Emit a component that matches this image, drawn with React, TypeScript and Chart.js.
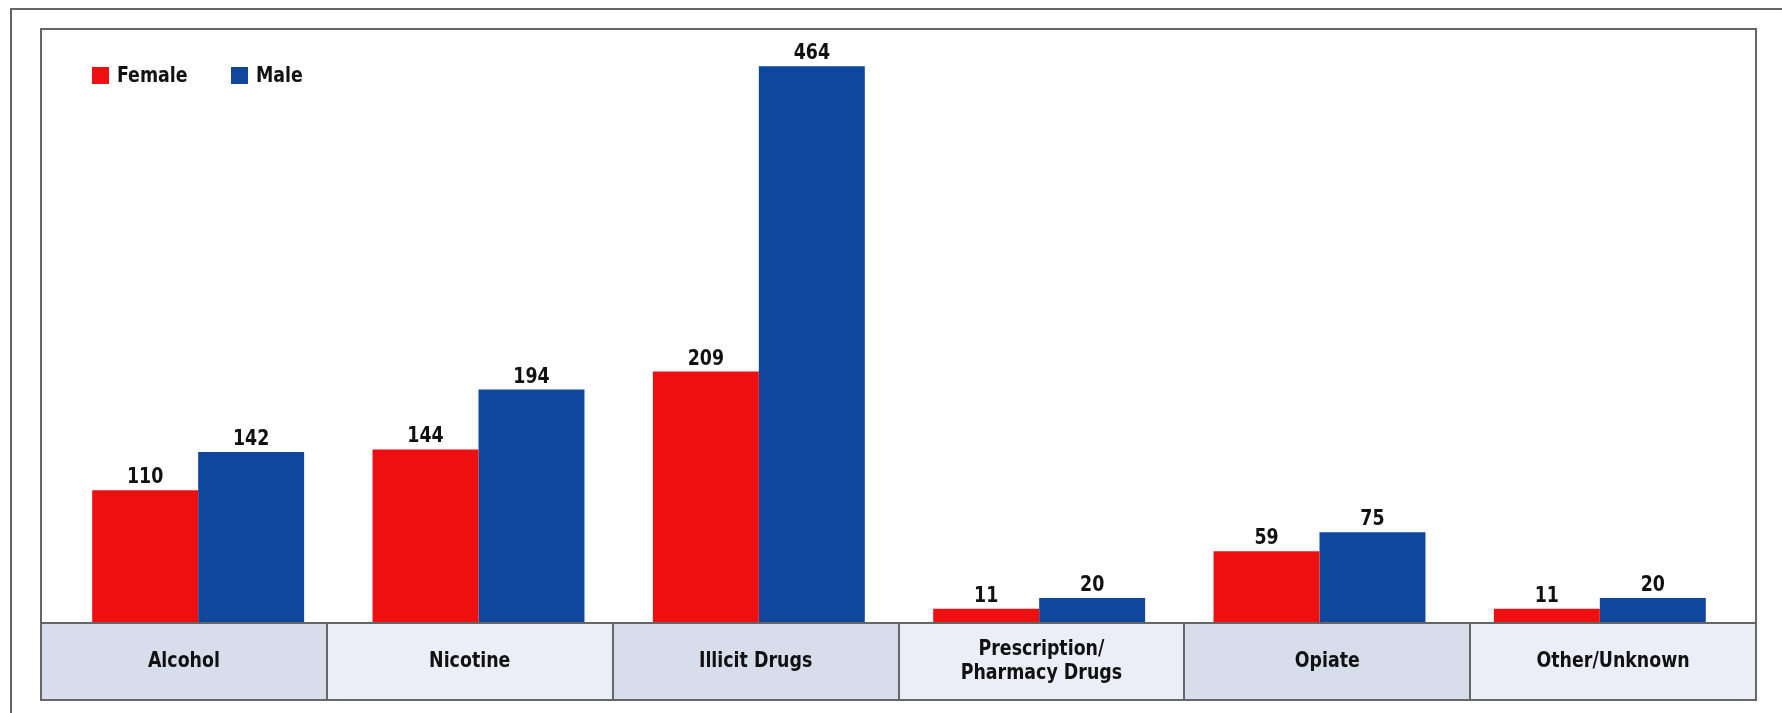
import React, { useEffect, useRef } from "react";
import { Chart, registerables } from "chart.js";

Chart.register(...registerables);

const categories: (string | string[])[] = [
  "Alcohol",
  "Nicotine",
  "Illicit Drugs",
  ["Prescription/", "Pharmacy Drugs"],
  "Opiate",
  "Other/Unknown",
];
const femaleValues = [110, 144, 209, 11, 59, 11];
const maleValues = [142, 194, 464, 20, 75, 20];
const seriesNames = ["Female", "Male"];
const yMax = 495;

const RED = "#ee1010";
const BLUE = "#0e479b";
const LINE = "#666666";
const BOX_DARK = "#d8ddec";
const BOX_LIGHT = "#ebeef6";
const FONT = '"DejaVu Sans Condensed", "Liberation Sans Narrow", "Open Sans", sans-serif';
const SX = 0.88;

function condensedText(ctx: CanvasRenderingContext2D, t: string, x: number, y: number) {
  ctx.save();
  ctx.translate(x, y);
  ctx.scale(SX, 1);
  ctx.fillText(t, 0, 0);
  ctx.restore();
}

const decorPlugin = {
  id: "decor",
  beforeDraw(chart: any) {
    const ctx = chart.ctx;
    ctx.save();
    ctx.fillStyle = "#ffffff";
    ctx.fillRect(0, 0, chart.width, chart.height);
    ctx.restore();
  },
  afterDatasetsDraw(chart: any) {
    const ctx = chart.ctx;
    const frameL = 41, frameR = 1756, frameT = 29, frameB = 700, axisY = 623;
    ctx.save();
    ctx.strokeStyle = LINE;
    ctx.lineWidth = 2;
    ctx.beginPath();
    ctx.moveTo(11, 713);
    ctx.lineTo(11, 9);
    ctx.lineTo(1782, 9);
    ctx.stroke();

    const n = categories.length;
    const w = (frameR - frameL) / n;
    for (let i = 0; i < n; i++) {
      ctx.fillStyle = i % 2 === 0 ? BOX_DARK : BOX_LIGHT;
      ctx.fillRect(frameL + i * w, axisY, w, frameB - axisY);
    }
    ctx.strokeStyle = LINE;
    ctx.lineWidth = 2;
    for (let i = 1; i < n; i++) {
      const x = Math.round(frameL + i * w);
      ctx.beginPath();
      ctx.moveTo(x, axisY);
      ctx.lineTo(x, frameB);
      ctx.stroke();
    }
    ctx.beginPath();
    ctx.moveTo(frameL, axisY);
    ctx.lineTo(frameR, axisY);
    ctx.stroke();
    ctx.strokeRect(frameL, frameT, frameR - frameL, frameB - frameT);

    ctx.fillStyle = "#111111";
    ctx.font = `bold 22px ${FONT}`;
    ctx.textAlign = "center";
    ctx.textBaseline = "middle";
    const cy = (axisY + frameB) / 2;
    categories.forEach((c, i) => {
      const cx = frameL + (i + 0.5) * w;
      const lines = Array.isArray(c) ? c : [c];
      const lh = 24;
      lines.forEach((t, j) => {
        condensedText(ctx, t, cx, cy + (j - (lines.length - 1) / 2) * lh);
      });
    });

    ctx.font = `bold 22px ${FONT}`;
    ctx.textBaseline = "alphabetic";
    chart.data.datasets.forEach((ds: any, di: number) => {
      const meta = chart.getDatasetMeta(di);
      meta.data.forEach((bar: any, i: number) => {
        condensedText(ctx, String(ds.data[i]), bar.x, bar.y - 7);
      });
    });

    const colors = [RED, BLUE];
    const lx = [92, 231];
    ctx.font = `bold 22px ${FONT}`;
    ctx.textAlign = "left";
    ctx.textBaseline = "middle";
    seriesNames.forEach((s, i) => {
      ctx.fillStyle = colors[i];
      ctx.fillRect(lx[i], 67, 17, 17);
      ctx.fillStyle = "#111111";
      condensedText(ctx, s, lx[i] + 25, 76);
    });
    ctx.restore();
  },
};

export default function App() {
  const ref = useRef<HTMLCanvasElement | null>(null);
  useEffect(() => {
    document.body.style.margin = "0";
    if (!ref.current) return;
    const chart = new Chart(ref.current, {
      type: "bar",
      data: {
        labels: categories.map((c) => (Array.isArray(c) ? c.join(" ") : c)),
        datasets: [
          { label: seriesNames[0], data: femaleValues, backgroundColor: RED, borderWidth: 0 },
          { label: seriesNames[1], data: maleValues, backgroundColor: BLUE, borderWidth: 0 },
        ],
      },
      options: {
        responsive: false,
        animation: false,
        devicePixelRatio: 1,
        layout: { padding: { left: 58, right: 42, top: 29, bottom: 91 } },
        datasets: { bar: { categoryPercentage: 0.756, barPercentage: 1.0 } },
        scales: {
          x: { display: false, offset: true },
          y: { display: false, min: 0, max: yMax },
        },
        plugins: { legend: { display: false }, tooltip: { enabled: false } },
      },
      plugins: [decorPlugin],
    });
    return () => chart.destroy();
  }, []);
  return <canvas ref={ref} width={1782} height={713} style={{ display: "block", width: 1782, height: 713 }} />;
}
